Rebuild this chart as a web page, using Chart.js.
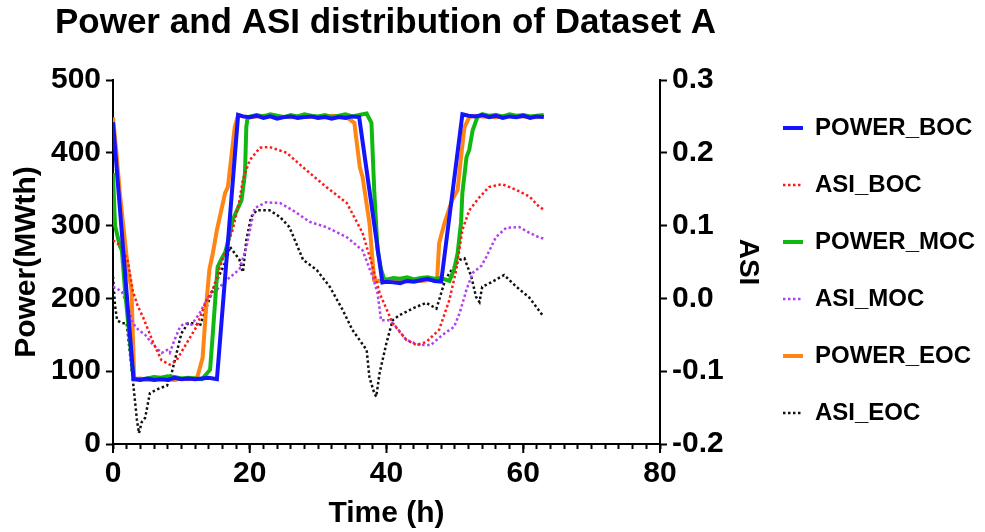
<!DOCTYPE html>
<html>
<head>
<meta charset="utf-8">
<script src="https://cdn.jsdelivr.net/npm/chart.js@4.4.0/dist/chart.umd.min.js"></script>
<style>
  html, body { margin: 0; padding: 0; background: #fff; }
</style>
</head>
<body>
<canvas id="asiChart" width="985" height="532"></canvas>
<script>
// values
const timePowerBOC = [0, 3, 4, 5, 6, 7, 8, 9, 10, 11, 12, 13, 14, 15.2, 18.3, 19, 20, 21, 22, 23, 24, 25, 26, 27, 28, 29, 30, 31, 32, 33, 34, 35, 36, 39.4, 40, 41, 42, 43, 44, 45, 46, 47, 48, 51.1, 52, 53, 54, 55, 56, 57, 58, 59, 60, 61, 62, 63];
const powerBOC = [442, 89, 88, 90, 88, 89, 88, 91, 89, 90, 89, 90, 91, 89, 452, 450, 449, 451, 448, 450, 447, 449, 450, 448, 449, 450, 448, 449, 447, 449, 448, 450, 449, 222, 223, 222, 221, 224, 223, 225, 227, 224, 223, 453, 451, 450, 452, 449, 451, 448, 450, 449, 451, 448, 450, 449];

const timePowerMOC = [0, 0.3, 1, 1.3, 1.75, 3, 4, 5, 6, 7, 8, 9, 10, 11, 12, 13, 14.2, 14.6, 14.9, 15.3, 15.9, 16.4, 16.8, 17.5, 18.8, 19.3, 19.5, 19.7, 21, 22, 23, 24, 25, 26, 27, 28, 29, 30, 31, 32, 33, 34, 35, 36, 37.1, 37.8, 38.2, 38.7, 39.2, 39.7, 41, 42, 43, 44, 45, 46, 47, 48, 49.2, 49.9, 50.4, 50.9, 51.1, 51.7, 52.1, 52.6, 53.3, 54, 55, 56, 57, 58, 59, 60, 61, 62, 63];
const powerMOC = [372, 300, 272, 266, 212, 90, 89, 90, 92, 91, 93, 92, 90, 91, 90, 89, 102, 152, 191, 243, 255, 263, 277, 308, 335, 372, 436, 449, 452, 450, 453, 451, 449, 452, 450, 453, 451, 450, 452, 449, 451, 453, 450, 452, 454, 441, 349, 266, 240, 225, 228, 227, 229, 226, 228, 229, 227, 228, 224, 240, 262, 304, 345, 394, 404, 431, 449, 453, 451, 452, 450, 453, 451, 452, 450, 451, 452];

const timePowerEOC = [0, 0.5, 1, 1.5, 2.2, 2.7, 3.1, 4, 5, 6, 7, 8, 9, 10, 11, 12.3, 13.1, 13.7, 14.1, 14.6, 15.2, 16.4, 16.8, 17.3, 17.8, 18.3, 19, 20, 22, 24, 26, 28, 30, 32, 34, 35.3, 35.6, 36.1, 36.5, 37.5, 38.2, 39, 40, 41, 42, 43, 44, 45, 46, 47.4, 47.7, 48.5, 49.6, 50.4, 50.9, 51.4, 52.1, 53, 54, 56, 58, 60, 62, 63];
const powerEOC = [449, 400, 345, 300, 239, 212, 89, 90, 88, 89, 90, 89, 88, 90, 89, 91, 118, 198, 240, 262, 294, 345, 353, 394, 435, 452, 450, 449, 451, 450, 449, 450, 449, 451, 450, 441, 418, 380, 367, 304, 225, 224, 226, 225, 223, 225, 226, 224, 225, 226, 276, 304, 335, 349, 394, 435, 449, 451, 450, 449, 451, 450, 449, 450];

const timeAsiBOC = [0, 1.3, 2.2, 2.9, 3.6, 4.4, 5.9, 7.1, 8.3, 9.3, 10.8, 12.2, 13.7, 14.6, 15.2, 16.6, 17.5, 18.5, 19, 20, 21.5, 22.9, 25.4, 28.3, 31.2, 34.2, 36.5, 37.8, 39, 40.9, 42.9, 44.4, 45.8, 47.7, 49.2, 50.2, 51.1, 52.1, 53.6, 55, 56.9, 59, 60.9, 62.3, 63];
const asiBOC = [0.08, 0.071, 0.05, 0.01, -0.01, -0.026, -0.061, -0.085, -0.091, -0.085, -0.061, -0.039, -0.002, 0.012, 0.03, 0.07, 0.094, 0.135, 0.163, 0.19, 0.207, 0.208, 0.2, 0.176, 0.153, 0.131, 0.09, 0.049, 0.007, -0.034, -0.057, -0.064, -0.06, -0.043, -0.002, 0.039, 0.094, 0.121, 0.139, 0.153, 0.157, 0.149, 0.14, 0.126, 0.122];

const timeAsiMOC = [0, 0.5, 1.3, 2.2, 2.9, 3.7, 4.7, 5.9, 7.1, 7.9, 8.3, 9, 9.8, 10.5, 11.5, 12.7, 13.7, 15.2, 16.6, 18.5, 19.5, 20.7, 22.4, 24.4, 26.3, 28.8, 31.2, 34.2, 36.5, 38, 38.7, 39.2, 40.4, 41.4, 42.9, 44.8, 46.5, 48.2, 49.9, 50.7, 51.7, 52.6, 53.9, 54.6, 56, 57.5, 59.4, 60.9, 62.3, 63];
const asiMOC = [0.016, 0.014, 0.009, -0.012, -0.034, -0.043, -0.05, -0.064, -0.075, -0.071, -0.075, -0.057, -0.039, -0.034, -0.036, -0.02, -0.002, 0.012, 0.025, 0.04, 0.07, 0.124, 0.132, 0.131, 0.121, 0.105, 0.098, 0.084, 0.066, 0.029, 0.007, -0.03, -0.03, -0.039, -0.057, -0.064, -0.064, -0.05, -0.039, -0.02, 0.012, 0.035, 0.045, 0.057, 0.084, 0.097, 0.098, 0.09, 0.084, 0.082];

const timeAsiEOC = [0, 0.3, 0.6, 1.3, 2, 2.9, 3.5, 3.8, 4.2, 4.7, 5.4, 6.9, 7.9, 8.6, 9.3, 10, 11, 12, 12.7, 13.4, 14.2, 15.2, 16.6, 17.1, 18.5, 19, 19.5, 20.2, 21, 22.9, 24.4, 25.8, 27.8, 29.8, 31.7, 33.6, 35, 37.1, 37.5, 38.2, 38.5, 39, 40, 40.9, 41.9, 43.8, 45.8, 47.3, 47.7, 48.5, 49.2, 50.7, 51.4, 52.4, 53.1, 53.6, 54, 55.5, 57.2, 59, 60.9, 62.8];
const asiEOC = [0.03, -0.01, -0.03, -0.034, -0.034, -0.112, -0.167, -0.185, -0.17, -0.164, -0.13, -0.123, -0.12, -0.102, -0.075, -0.048, -0.034, -0.034, -0.038, -0.02, 0.002, 0.025, 0.053, 0.071, 0.053, 0.036, 0.08, 0.112, 0.121, 0.121, 0.112, 0.098, 0.053, 0.039, 0.016, -0.016, -0.043, -0.071, -0.108, -0.13, -0.135, -0.102, -0.061, -0.03, -0.023, -0.014, -0.006, -0.014, -0.002, 0.023, 0.035, 0.053, 0.055, 0.03, 0.002, -0.005, 0.016, 0.023, 0.032, 0.016, 0.001, -0.023];

const xLabelTicks = [0, 20, 40, 60, 80];

const FONT = "'Liberation Sans', Arial, sans-serif";
Chart.defaults.font.family = FONT;
Chart.defaults.color = '#000';

const pts = (t, v) => t.map((x, i) => ({ x: x, y: v[i] }));

const powerLine = (label, t, v, color) => ({
  label: label, data: pts(t, v), yAxisID: 'y',
  borderColor: color, backgroundColor: color, borderWidth: 4
});
const asiLine = (label, t, v, color) => ({
  label: label, data: pts(t, v), yAxisID: 'y2',
  borderColor: color, backgroundColor: color, borderWidth: 2.5, borderDash: [2.5, 2.5]
});

// longer marks under the labelled x ticks
const majorTicks = {
  id: 'majorTicks',
  afterDraw(chart) {
    const xs = chart.scales.x, ctx = chart.ctx, y0 = chart.chartArea.bottom;
    ctx.save();
    ctx.strokeStyle = '#000';
    ctx.lineWidth = 2;
    xLabelTicks.forEach((v) => {
      const px = xs.getPixelForValue(v);
      ctx.beginPath();
      ctx.moveTo(px, y0);
      ctx.lineTo(px, y0 + 9);
      ctx.stroke();
    });
    ctx.restore();
  }
};

const axisBorder = { color: '#000', width: 2 };

// title spans the whole canvas; trailing no-break spaces move it over the plot
const titleText = 'Power and ASI distribution of Dataset A' + '\u00a0'.repeat(22);

new Chart(document.getElementById('asiChart'), {
  type: 'line',
  data: {
    datasets: [
      powerLine('POWER_BOC', timePowerBOC, powerBOC, '#1414ff'),
      asiLine('ASI_BOC', timeAsiBOC, asiBOC, '#ff1a1a'),
      powerLine('POWER_MOC', timePowerMOC, powerMOC, '#12b812'),
      asiLine('ASI_MOC', timeAsiMOC, asiMOC, '#b040f0'),
      powerLine('POWER_EOC', timePowerEOC, powerEOC, '#ff8514'),
      asiLine('ASI_EOC', timeAsiEOC, asiEOC, '#111111')
    ]
  },
  options: {
    responsive: false,
    animation: false,
    layout: { padding: 0 },
    elements: {
      point: { radius: 0 },
      line: { tension: 0, fill: false }
    },
    plugins: {
      tooltip: { enabled: false },
      title: {
        display: true,
        text: titleText,
        color: '#000',
        font: { size: 35, weight: 'bold' },
        padding: { top: 2, bottom: 36 }
      },
      legend: {
        position: 'right',
        align: 'start',
        maxWidth: 280,
        title: { display: true, text: '', font: { size: 1, lineHeight: 1 }, padding: { top: 82, bottom: 0 } },
        labels: {
          usePointStyle: true,
          pointStyleWidth: 20,
          padding: 33,
          color: '#000',
          font: { size: 24, weight: 'bold' },
          generateLabels(chart) {
            const items = Chart.defaults.plugins.legend.labels.generateLabels(chart);
            items.forEach((it) => {
              const ds = chart.data.datasets[it.datasetIndex];
              it.pointStyle = 'line';
              it.strokeStyle = ds.borderColor;
              it.lineWidth = ds.borderWidth;
              it.lineDash = ds.borderDash || [];
            });
            return items;
          }
        }
      }
    },
    scales: {
      x: {
        type: 'linear',
        position: 'bottom',
        min: 0,
        max: 80,
        afterFit: (s) => { s.height = 88; },
        border: axisBorder,
        grid: { drawOnChartArea: false, tickLength: 5, tickColor: '#000', tickWidth: 2 },
        ticks: {
          stepSize: 2,
          autoSkip: false,
          maxRotation: 0,
          padding: 7,
          color: '#000',
          font: { size: 30, weight: 'bold' },
          callback: (v) => (xLabelTicks.includes(v) ? String(v) : '')
        },
        title: {
          display: true,
          text: 'Time (h)',
          color: '#000',
          font: { size: 30, weight: 'bold', lineHeight: 1 },
          padding: { top: 0, bottom: 3 }
        }
      },
      y: {
        position: 'left',
        min: 0,
        max: 500,
        afterFit: (s) => { s.width = 113; },
        border: axisBorder,
        grid: { drawOnChartArea: false, tickLength: 7, tickColor: '#000', tickWidth: 2 },
        ticks: { stepSize: 100, padding: 5, color: '#000', font: { size: 30, weight: 'bold' } },
        title: {
          display: true,
          text: 'Power(MWth)',
          color: '#000',
          font: { size: 30, weight: 'bold', lineHeight: 1 },
          padding: { top: 12, bottom: 0 }
        }
      },
      y2: {
        position: 'right',
        min: -0.2,
        max: 0.3,
        afterFit: (s) => { s.width = s.chart.width - 660 - s.chart.legend.width; },
        border: axisBorder,
        grid: { drawOnChartArea: false, tickLength: 7, tickColor: '#000', tickWidth: 2 },
        ticks: {
          stepSize: 0.1,
          padding: 5,
          color: '#000',
          font: { size: 30, weight: 'bold' },
          callback: (v) => Number(v).toFixed(1)
        },
        title: {
          display: true,
          text: 'ASI',
          color: '#000',
          font: { size: 28, weight: 'bold', lineHeight: 1 },
          padding: { top: -12, bottom: 0 }
        }
      }
    }
  },
  plugins: [majorTicks]
});
</script>
</body>
</html>
